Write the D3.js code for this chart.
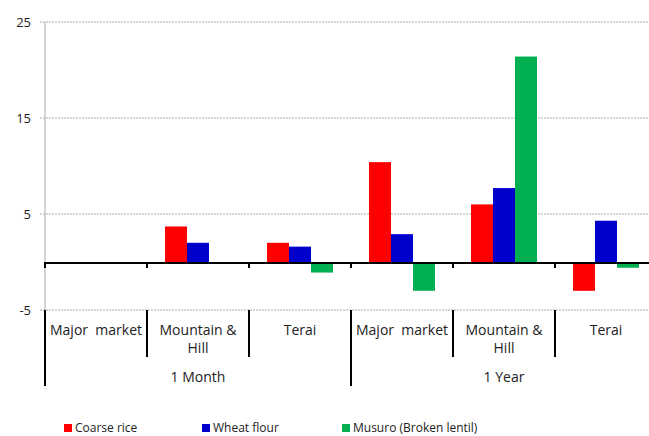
<!DOCTYPE html>
<html>
<head>
<meta charset="utf-8">
<script src="https://cdn.jsdelivr.net/npm/d3@7"></script>
<style>
  body { margin: 0; background: #fff; }
  text { font-family: "Open Sans", sans-serif; fill: #222; }
</style>
</head>
<body>
<div id="chart"></div>
<script>
// Chart data
var periods = ["1 Month", "1 Year"];
var regions = ["Major  market", "Mountain &\nHill", "Terai"];
var series = ["Coarse rice", "Wheat flour", "Musuro (Broken lentil)"];
var colors = ["#ff0000", "#0000cc", "#00b050"];
var coarseRice = [0, 3.7, 2.0, 10.4, 6.0, -3.0];
var wheatFlour = [0, 2.0, 1.6, 2.9, 7.7, 4.3];
var musuro = [0, 0, -1.1, -3.0, 21.4, -0.6];
var yTicks = [25, 15, 5, -5];

var values = [coarseRice, wheatFlour, musuro];
var width = 649, height = 436;

var svg = d3.select("#chart").append("svg")
    .attr("width", width)
    .attr("height", height);

// categories = period x region
var cats = [];
periods.forEach(function(p, pi) {
  regions.forEach(function(r, ri) { cats.push({period: p, region: r, idx: pi * regions.length + ri}); });
});

var x = d3.scaleBand()
    .domain(cats.map(function(d) { return d.idx; }))
    .range([45, 657]);

var xs = d3.scaleBand()
    .domain(series.map(function(d, i) { return i; }))
    .range([18, x.bandwidth() - 18]);

var y = d3.scaleLinear()
    .domain([-5, 25])
    .range([310, 22]);

// Gridlines
svg.selectAll("line.grid").data(yTicks).enter()
  .append("line")
    .attr("class", "grid")
    .attr("x1", 40)
    .attr("x2", width)
    .attr("y1", function(d) { return y(d); })
    .attr("y2", function(d) { return y(d); })
    .attr("stroke", "#aaa")
    .attr("stroke-width", 1)
    .attr("stroke-dasharray", "2,1");

// Y axis line
svg.append("line")
    .attr("x1", 45).attr("x2", 45)
    .attr("y1", y(25)).attr("y2", y(-5))
    .attr("stroke", "#aaa");

svg.selectAll("text.ytick").data(yTicks).enter()
  .append("text")
    .attr("class", "ytick")
    .attr("x", 31)
    .attr("y", function(d) { return y(d); })
    .attr("dy", "0.35em")
    .attr("text-anchor", "end")
    .style("font-size", "13px")
    .text(function(d) { return d; });

// Bars
series.forEach(function(s, si) {
  svg.selectAll("rect.s" + si).data(values[si]).enter()
    .append("rect")
      .attr("class", "s" + si)
      .attr("x", function(d, i) { return x(i) + xs(si); })
      .attr("width", xs.bandwidth())
      .attr("y", function(d) { return y(Math.max(0, d)); })
      .attr("height", function(d) { return Math.abs(y(d) - y(0)); })
      .attr("fill", colors[si]);
});

// Zero axis with ticks
svg.append("line")
    .attr("x1", 45).attr("x2", width)
    .attr("y1", y(0) + 1).attr("y2", y(0) + 1)
    .attr("stroke", "#000")
    .attr("stroke-width", 2);

var bounds = cats.map(function(d) { return x(d.idx); }).concat([x(cats.length - 1) + x.bandwidth()]);
svg.selectAll("line.ztick").data(bounds).enter()
  .append("line")
    .attr("x1", function(d) { return d; })
    .attr("x2", function(d) { return d; })
    .attr("y1", y(0))
    .attr("y2", y(0) + 6)
    .attr("stroke", "#000")
    .attr("stroke-width", 2);

// Multi-level category labels
svg.selectAll("line.sep").data(bounds).enter()
  .append("line")
    .attr("x1", function(d) { return d; })
    .attr("x2", function(d) { return d; })
    .attr("y1", y(-5))
    .attr("y2", function(d, i) { return i % regions.length === 0 ? 386 : 357; })
    .attr("stroke", "#000")
    .attr("stroke-width", 2);

cats.forEach(function(c) {
  var t = svg.append("text")
      .attr("x", x(c.idx) + x.bandwidth() / 2)
      .attr("y", 335)
      .attr("text-anchor", "middle")
      .style("font-size", "14px")
      .style("white-space", "pre");
  c.region.split("\n").forEach(function(line, li) {
    t.append("tspan")
        .attr("x", x(c.idx) + x.bandwidth() / 2)
        .attr("dy", li === 0 ? 0 : 18)
        .text(line);
  });
});

periods.forEach(function(p, pi) {
  var x0 = x(pi * regions.length);
  var x1 = x(pi * regions.length + regions.length - 1) + x.bandwidth();
  svg.append("text")
      .attr("x", (x0 + x1) / 2)
      .attr("y", 382)
      .attr("text-anchor", "middle")
      .style("font-size", "14px")
      .text(p);
});

// Legend
var legendX = [64, 202, 342];
series.forEach(function(s, si) {
  svg.append("rect")
      .attr("x", legendX[si])
      .attr("y", 424)
      .attr("width", 8)
      .attr("height", 8)
      .attr("fill", colors[si]);
  svg.append("text")
      .attr("x", legendX[si] + 11)
      .attr("y", 432)
      .style("font-size", "12px")
      .text(s);
});
</script>
</body>
</html>
